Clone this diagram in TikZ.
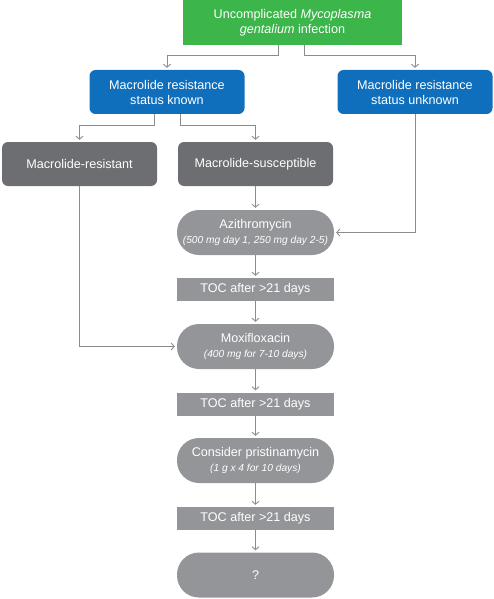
\documentclass[tikz,border=0pt]{standalone}
\usepackage{fontspec}
\setmainfont{Liberation Sans}
\usetikzlibrary{arrows.meta}

\definecolor{mgGreen}{RGB}{60,181,74}
\definecolor{mgBlue}{RGB}{15,111,189}
\definecolor{mgDark}{RGB}{109,110,113}
\definecolor{mgGrey}{RGB}{147,149,152}
\definecolor{mgLine}{RGB}{140,140,143}

\newcommand{\dose}[1]{{\fontsize{10.2}{12}\selectfont\itshape #1}}

\tikzset{
	box/.style={draw=none, text=white, align=center, inner sep=0pt, minimum height=44pt, font=\fontsize{12.6}{15}\selectfont},
	greenbox/.style={box, fill=mgGreen, minimum width=219pt, minimum height=45pt},
	bluebox/.style={box, fill=mgBlue, rounded corners=6pt, minimum width=155pt},
	darkbox/.style={box, fill=mgDark, rounded corners=6pt, minimum width=155pt},
	drugbox/.style={box, fill=mgGrey, rounded corners=22pt, minimum width=157pt, minimum height=45pt},
	tocbox/.style={box, fill=mgGrey, minimum width=157pt, minimum height=23pt},
	link/.style={draw=mgLine, line width=0.9pt, shorten >=2pt, -{Straight Barb[length=3pt,width=7pt]}},
}

\begin{document}
\begin{tikzpicture}[x=1pt, y=-1pt]
		\useasboundingbox (0,0) rectangle (494,599);
		
		\node[greenbox] (infection) at (292.5,22.5) {Uncomplicated \textit{Mycoplasma}\\\textit{gentalium} infection};
		\node[bluebox] (known) at (167,92) {Macrolide resistance\\status known};
		\node[bluebox] (unknown) at (415,92) {Macrolide resistance\\status unknown};
		\node[darkbox] (resistant) at (79.5,164) {Macrolide-resistant};
		\node[darkbox] (susceptible) at (255.5,164) {Macrolide-susceptible};
		
		\node[drugbox] (azithro) at (255.5,232.5) {Azithromycin\\\dose{(500 mg day 1, 250 mg day 2-5)}};
		\node[tocbox] (toc1) at (255.5,289.5) {TOC after >21 days};
		\node[drugbox] (moxi) at (255.5,346.5) {Moxifloxacin\\\dose{(400 mg for 7-10 days)}};
		\node[tocbox] (toc2) at (255.5,404) {TOC after >21 days};
		\node[drugbox] (pristin) at (255.5,460.5) {Consider pristinamycin\\\dose{(1 g x 4 for 10 days)}};
		\node[tocbox] (toc3) at (255.5,518.5) {TOC after >21 days};
		\node[drugbox] (unclear) at (255.5,575) {?};
		
		\draw[link] ([xshift=-14.5pt]infection.south) -- ++(0,10) -| (known.north);
		\draw[link] ([xshift=11.5pt]infection.south) -- ++(0,10) -| (unknown.north);
		\draw[link] ([xshift=-13pt]known.south) -- ++(0,11) -| (resistant.north);
		\draw[link] ([xshift=13pt]known.south) -- ++(0,11) -| (susceptible.north);
		\draw[link] (unknown.south) |- (azithro.east);
		\draw[link] (resistant.south) |- (moxi.west);
		
		\foreach \a/\b in {susceptible/azithro, azithro/toc1, toc1/moxi, moxi/toc2, toc2/pristin, pristin/toc3, toc3/unclear}
			\draw[link] (\a) -- (\b);
		
	\end{tikzpicture}
\end{document}
